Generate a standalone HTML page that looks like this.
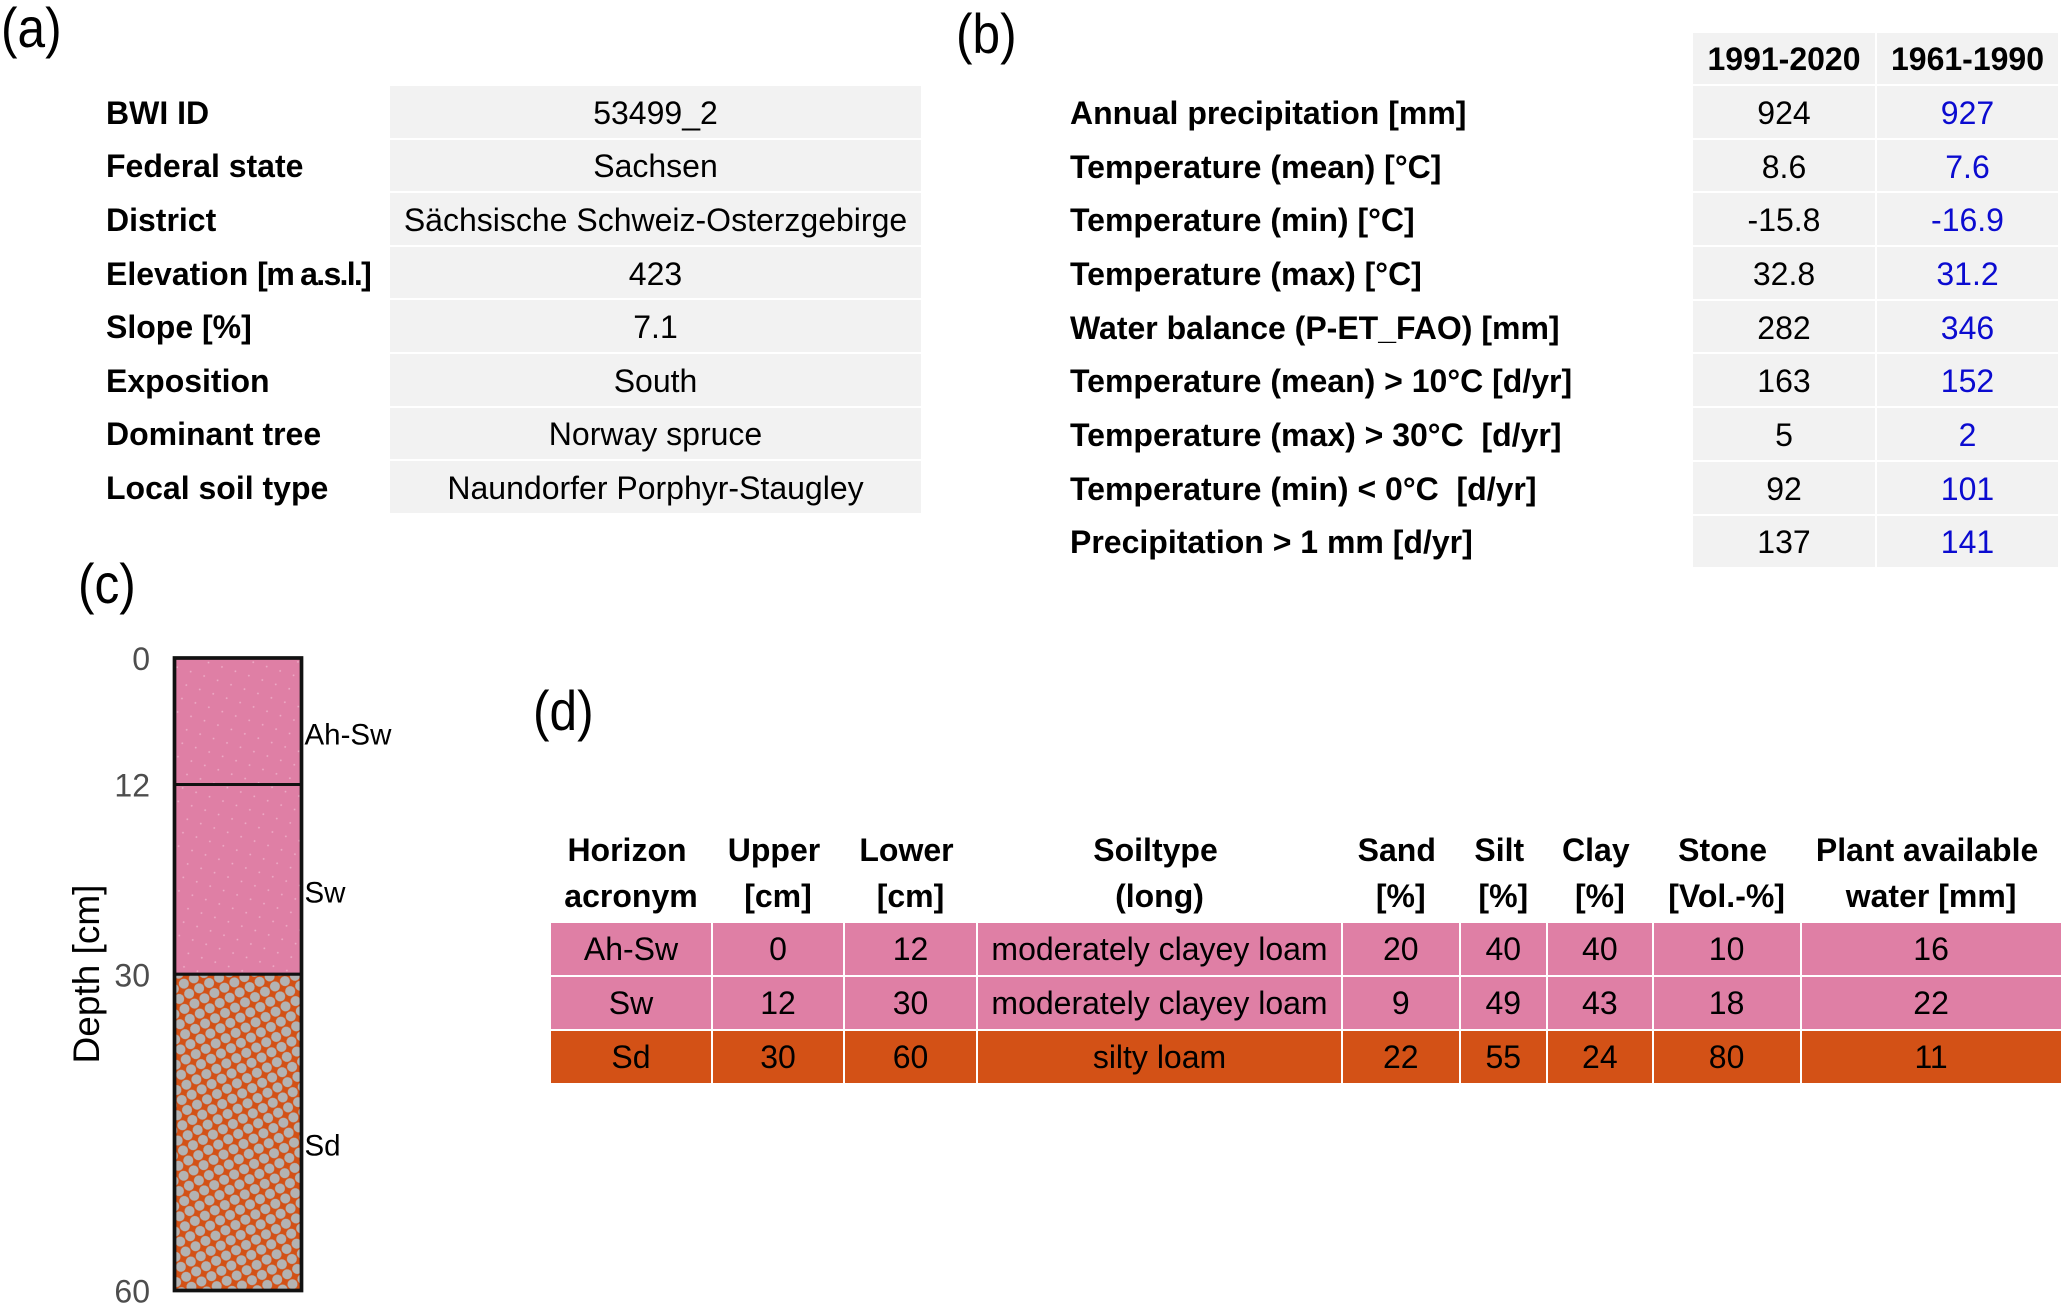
<!DOCTYPE html>
<html lang="en">
<head>
<meta charset="utf-8">
<title>Site, climate and soil profile summary</title>
<style>
html,body{margin:0;padding:0;background:#fff;}
body{position:relative;width:2067px;height:1314px;overflow:hidden;font-family:"Liberation Sans",Arial,sans-serif;font-size:32px;color:#000;}
.letter{position:absolute;font-size:56px;line-height:1;transform-origin:0 0;transform:scaleX(.885);white-space:nowrap;}
.grid{position:absolute;display:grid;}
.grid>div{display:flex;align-items:center;justify-content:center;white-space:pre;box-sizing:border-box;}
#table-a{left:106px;top:86px;grid-template-columns:284px 531px;grid-auto-rows:51.6px;row-gap:2px;}
#table-a>div,#table-b>div{padding-top:3px;}
#table-b{left:1070px;top:32.5px;grid-template-columns:623px 182px 181px;grid-template-rows:51.5px repeat(9,51.7px);row-gap:2px;}
#table-b>div:nth-child(3n+3){margin-left:2px;margin-right:-2px;}
#table-d-head{left:551px;top:827.4px;grid-template-columns:160px 130px 131px 363px 115.5px 85.6px 103.5px 146px 259px;column-gap:2px;grid-auto-rows:92px;}
#table-d-head>div{line-height:46px;text-align:center;font-weight:bold;}
#table-d{left:551px;top:922.5px;grid-template-columns:160px 130px 131px 363px 115.5px 85.6px 103.5px 146px 259px;gap:2px;grid-auto-rows:52px;}
#table-d>div{padding-top:2px;}
.l{justify-content:flex-start!important;font-weight:bold;}
.v{background:#f2f2f2;}
.h{background:#f2f2f2;font-weight:bold;}
.o{color:#0b0bd0;}
.p{background:#df7fa5;}
.r{background:#d35116;}
.f{position:relative;left:-4px;}
#profile{position:absolute;left:0;top:0;}
</style>
</head>
<body>

<div class="letter" style="left:1px;top:0px">(a)</div>
<div class="letter" style="left:956px;top:6px">(b)</div>
<div class="letter" style="left:78px;top:556px">(c)</div>
<div class="letter" style="left:533px;top:683px">(d)</div>

<div class="grid" id="table-a">
<div class="l">BWI ID</div><div class="v">53499_2</div>
<div class="l">Federal state</div><div class="v">Sachsen</div>
<div class="l">District</div><div class="v">Sächsische Schweiz-Osterzgebirge</div>
<div class="l"><span>Elevation <span style="letter-spacing:-1.5px">[m</span><span style="letter-spacing:-2px"> </span><span style="letter-spacing:-1.7px">a.s.l.]</span></span></div><div class="v">423</div>
<div class="l">Slope [%]</div><div class="v">7.1</div>
<div class="l">Exposition</div><div class="v">South</div>
<div class="l">Dominant tree</div><div class="v">Norway spruce</div>
<div class="l">Local soil type</div><div class="v">Naundorfer Porphyr-Staugley</div>
</div>

<div class="grid" id="table-b">
<div></div><div class="h">1991-2020</div><div class="h">1961-1990</div>
<div class="l">Annual precipitation [mm]</div><div class="v">924</div><div class="v o">927</div>
<div class="l">Temperature (mean) [°C]</div><div class="v">8.6</div><div class="v o">7.6</div>
<div class="l">Temperature (min) [°C]</div><div class="v">-15.8</div><div class="v o">-16.9</div>
<div class="l">Temperature (max) [°C]</div><div class="v">32.8</div><div class="v o">31.2</div>
<div class="l">Water balance (P-ET_FAO) [mm]</div><div class="v">282</div><div class="v o">346</div>
<div class="l">Temperature (mean) &gt; 10°C [d/yr]</div><div class="v">163</div><div class="v o">152</div>
<div class="l">Temperature (max) &gt; 30°C  [d/yr]</div><div class="v">5</div><div class="v o">2</div>
<div class="l">Temperature (min) &lt; 0°C  [d/yr]</div><div class="v">92</div><div class="v o">101</div>
<div class="l">Precipitation &gt; 1 mm [d/yr]</div><div class="v">137</div><div class="v o">141</div>
</div>

<div class="grid" id="table-d-head">
<div><span><span class="f">Horizon</span><br>acronym</span></div>
<div><span><span class="f">Upper</span><br>[cm]</span></div>
<div><span><span class="f">Lower</span><br>[cm]</span></div>
<div><span><span class="f">Soiltype</span><br>(long)</span></div>
<div><span><span class="f">Sand</span><br>[%]</span></div>
<div><span><span class="f">Silt</span><br>[%]</span></div>
<div><span><span class="f">Clay</span><br>[%]</span></div>
<div><span><span class="f">Stone</span><br>[Vol.-%]</span></div>
<div><span><span class="f">Plant available</span><br>water [mm]</span></div>
</div>

<div class="grid" id="table-d">
<div class="p">Ah-Sw</div><div class="p">0</div><div class="p">12</div><div class="p">moderately clayey loam</div><div class="p">20</div><div class="p">40</div><div class="p">40</div><div class="p">10</div><div class="p">16</div>
<div class="p">Sw</div><div class="p">12</div><div class="p">30</div><div class="p">moderately clayey loam</div><div class="p">9</div><div class="p">49</div><div class="p">43</div><div class="p">18</div><div class="p">22</div>
<div class="r">Sd</div><div class="r">30</div><div class="r">60</div><div class="r">silty loam</div><div class="r">22</div><div class="r">55</div><div class="r">24</div><div class="r">80</div><div class="r">11</div>
</div>

<svg id="profile" width="2067" height="1314" viewBox="0 0 2067 1314" style="pointer-events:none">
<defs>
<pattern id="stones" width="11.3" height="11.3" patternUnits="userSpaceOnUse" patternTransform="rotate(-28)">
<rect width="11.3" height="11.3" fill="#d35116"/>
<circle cx="5.65" cy="5.65" r="5" fill="#b3b3b3"/>
</pattern>
<pattern id="fines" width="20" height="20" patternUnits="userSpaceOnUse" patternTransform="rotate(-27)">
<rect width="20" height="20" fill="#df7fa5"/>
<circle cx="5" cy="5" r="0.9" fill="#eeaec8"/>
<circle cx="15" cy="15" r="0.9" fill="#eeaec8"/>
</pattern>
</defs>
<g id="profile-marks"></g>
</svg>

<script>
const horizons = ['Ah-Sw', 'Sw', 'Sd'];
const upperDepth = [0, 12, 30];
const lowerDepth = [12, 30, 60];
const stoneClass = ['fines', 'fines', 'stones'];
const depthTicks = [0, 12, 30, 60];
const depthTitle = 'Depth [cm]';

const plot = { left: 174.5, right: 301.5, top: 658, bottom: 1290.5, maxDepth: 60 };
function yScale(d) {
  return plot.top + (d / plot.maxDepth) * (plot.bottom - plot.top);
}
const NS = 'http://www.w3.org/2000/svg';
const marks = document.getElementById('profile-marks');
function mk(tag, attrs, text) {
  const el = document.createElementNS(NS, tag);
  for (const k in attrs) el.setAttribute(k, attrs[k]);
  if (text !== undefined) el.textContent = text;
  marks.appendChild(el);
  return el;
}
horizons.forEach(function (name, i) {
  const y0 = yScale(upperDepth[i]);
  const y1 = yScale(lowerDepth[i]);
  const band = mk('rect', { x: plot.left, y: y0, width: plot.right - plot.left, height: y1 - y0, fill: 'url(#' + stoneClass[i] + ')', stroke: '#111', 'stroke-width': 3 });
  
  
  const label = mk('text', { x: plot.right + 3, y: (y0 + y1) / 2 + 23, 'font-size': 29.5, fill: '#000', 'font-family': '"Liberation Sans", Arial, sans-serif' }, name);
  
  
});
const frame = mk('rect', { x: plot.left, y: plot.top, width: plot.right - plot.left, height: plot.bottom - plot.top, fill: 'none', stroke: '#111', 'stroke-width': 3.7 });


depthTicks.forEach(function (t) {
  const tick = mk('text', { x: 150, y: yScale(t) + 12, 'text-anchor': 'end', 'font-size': 32, fill: '#4d4d4d', 'font-family': '"Liberation Sans", Arial, sans-serif' }, String(t));
  
  
});
const title = mk('text', { transform: 'translate(99 974) rotate(-90)', 'text-anchor': 'middle', 'font-size': 37, fill: '#000', 'font-family': '"Liberation Sans", Arial, sans-serif' }, depthTitle);


</script>
</body>
</html>
